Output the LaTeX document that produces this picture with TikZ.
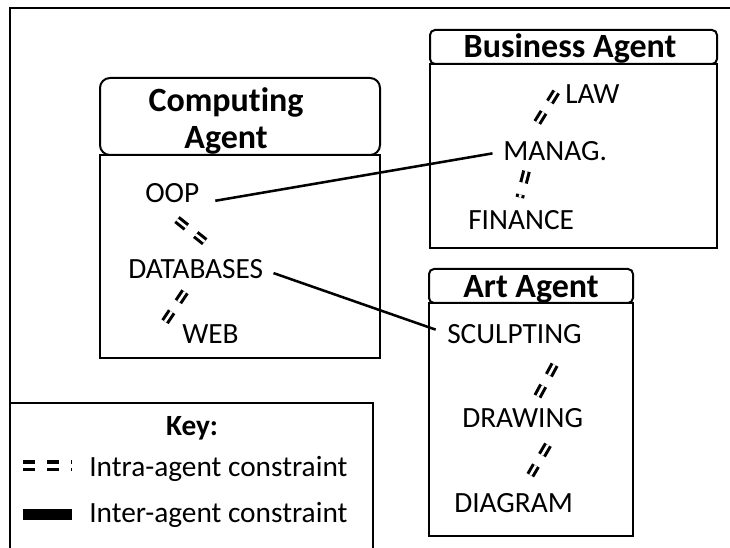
\documentclass[tikz,border=0pt]{standalone}
\usepackage{fontspec}
\setmainfont{Carlito}[Ligatures=NoCommon]
\begin{document}
\begin{tikzpicture}[x=0.75pt,y=-0.75pt,
    frame/.style={line width=1.5pt},
    item/.style={inner sep=0pt,anchor=base west,font=\fontsize{22}{26}\selectfont},
    title/.style={inner sep=0pt,anchor=base,align=center,font=\fontsize{25.5}{27.75}\selectfont\bfseries},
    inter/.style={line width=1.9pt},
    intra/.style={line width=2.3pt,double distance=1.9pt,dash pattern=on 9pt off 9pt},
    intrakey/.style={line width=2.7pt,double distance=3pt,dash pattern=on 9pt off 9pt}]
    \useasboundingbox (0,0) rectangle (730,548);
    % outer frame
    \draw[frame] (10,548) |- (730,8);

    % computing agent
    \draw[frame,rounded corners=7.5pt] (100,78) rectangle (380,155);
    \draw[frame] (100,155) rectangle (380,358);
    \node[title] (comp) at (226,149) {Computing\\Agent};
    \node[item] (oop) at (145,203) {OOP};
    \node[item] (db) at (128,279) {DATABASES};
    \node[item] (web) at (182,343) {WEB};

    % business agent
    \draw[frame,rounded corners=3.75pt] (430,30) rectangle (717,64);
    \draw[frame] (430,64) rectangle (717,248);
    \node[title] (busi) at (570,58) {Business Agent};
    \node[item] (law) at (565,104) {LAW};
    \node[item] (manag) at (503,161) {MANAG.};
    \node[item] (fin) at (468,230) {FINANCE};

    % art agent
    \draw[frame,rounded corners=3.75pt] (429,269) rectangle (633,303);
    \draw[frame] (429,303) rectangle (633,536);
    \node[title] (art) at (531,298) {Art Agent};
    \node[item] (sculpt) at (447,343) {SCULPTING};
    \node[item] (drawing) at (462,427) {DRAWING};
    \node[item] (diag) at (454,512) {DIAGRAM};

    % intra-agent constraints
    \coordinate (oopdb1) at (177.0,219.6);
    \coordinate (oopdb2) at (204.7,241.7);
    \coordinate (dbweb1) at (185.0,291.8);
    \coordinate (dbweb2) at (165.0,321.7);
    \coordinate (lawman1) at (556.2,91.9);
    \coordinate (lawman2) at (536.9,123.1);
    \coordinate (manfin1) at (526.5,171.2);
    \coordinate (manfin2) at (519.8,197.6);
    \coordinate (scdr1) at (554.6,364.7);
    \coordinate (scdr2) at (537.1,397.0);
    \coordinate (drdi1) at (548.0,444.8);
    \coordinate (drdi2) at (530.3,475.2);
    \draw[intra] (oopdb1) -- (oopdb2);
    \draw[intra] (dbweb1) -- (dbweb2);
    \draw[intra] (lawman1) -- (lawman2);
    \draw[intra] (manfin1) -- (manfin2);
    \draw[intra] (scdr1) -- (scdr2);
    \draw[intra] (drdi1) -- (drdi2);

    % inter-agent constraints
    \draw[inter,shorten <=12pt,shorten >=8pt] (oop.south east) -- (manag.west);
    \draw[inter,shorten <=8pt,shorten >=9pt] (db.east) -- (sculpt.west);

    % key
    \draw[frame] (10,403) -| (373,548);
    \node[title,font=\fontsize{22}{26}\selectfont\bfseries] (key) at (192,435) {Key:};
    \node[item] (intra) at (89,476) {Intra-agent constraint};
    \node[item] (inter) at (89,522) {Inter-agent constraint};
    \draw[intrakey] (23,465.5) -- (72,465.5);
    \draw[inter,line width=8.25pt] (23,514.5) -- (72,514.5);
\end{tikzpicture}
\end{document}
